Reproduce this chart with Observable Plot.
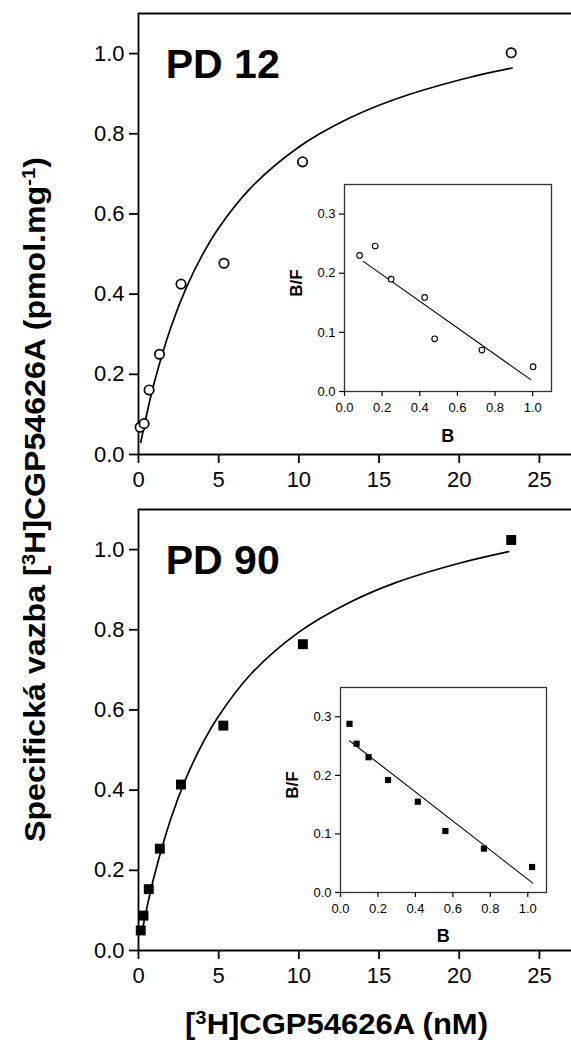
<!DOCTYPE html>
<html><head><meta charset="utf-8">
<script src="https://cdn.jsdelivr.net/npm/d3@7"></script>
<script src="https://cdn.jsdelivr.net/npm/@observablehq/plot@0.6"></script>
<style>
html,body{margin:0;padding:0;background:#fff;}
#fig{position:relative;width:571px;height:1050px;overflow:hidden;font-family:"Liberation Sans",Arial,sans-serif;}
#fig > *{position:absolute;}
</style></head><body><div id="fig"></div>
<script>
// ---------- data ----------
const mainXTicks = [0, 5, 10, 15, 20, 25];
const mainYTicks = [0, 0.2, 0.4, 0.6, 0.8, 1.0];
const mainXDomain = [0, 27];
const mainYDomain = [0, 1.1];
const insetXTicks = [0, 0.2, 0.4, 0.6, 0.8, 1.0];
const insetYTicks = [0, 0.1, 0.2, 0.3];
const insetXDomain = [0, 1.1];
const insetYDomain = [0, 0.35];

// PD 12 saturation (open circles)
const pd12Conc  = [0.1, 0.35, 0.66, 1.31, 2.65, 5.33, 10.23, 23.24];
const pd12Bound = [0.068, 0.077, 0.161, 0.25, 0.425, 0.477, 0.730, 1.002];
const pd12FitConc  = [0.14, 0.5, 1, 2, 3, 4, 5, 7, 10, 13, 16, 20, 23.3];
const pd12FitBound = [0.03, 0.098, 0.182, 0.315, 0.418, 0.499, 0.565, 0.665, 0.767, 0.836, 0.886, 0.934, 0.964];
// PD 12 Scatchard inset
const pd12B  = [0.08, 0.163, 0.248, 0.426, 0.479, 0.73, 1.002];
const pd12BF = [0.23, 0.246, 0.19, 0.159, 0.089, 0.070, 0.042];
const pd12LineB  = [0.1, 0.99];
const pd12LineBF = [0.22, 0.02];

// PD 90 saturation (filled squares)
const pd90Conc  = [0.14, 0.31, 0.64, 1.33, 2.65, 5.29, 10.25, 23.24];
const pd90Bound = [0.05, 0.087, 0.153, 0.254, 0.414, 0.561, 0.764, 1.024];
const pd90FitConc  = [0.2, 0.5, 1, 2, 3, 4, 5, 7, 10, 13, 16, 20, 23.08];
const pd90FitBound = [0.043, 0.102, 0.189, 0.327, 0.433, 0.517, 0.585, 0.689, 0.794, 0.865, 0.917, 0.966, 0.995];
// PD 90 Scatchard inset
const pd90B  = [0.048, 0.086, 0.150, 0.254, 0.413, 0.560, 0.766, 1.023];
const pd90BF = [0.288, 0.254, 0.231, 0.192, 0.155, 0.105, 0.075, 0.0435];
const pd90LineB  = [0.048, 1.027];
const pd90LineBF = [0.259, 0.016];

const panelLabels = [{name: "PD 12", x: 1.7, y: 0.94}, {name: "PD 90", x: 1.7, y: 0.94}];

// ---------- helpers ----------
const zip = (xs, ys) => xs.map((x, i) => ({x, y: ys[i]}));
const fig = document.getElementById("fig");
const FONT = '"Liberation Sans", Arial, sans-serif';

function mainPanel(conc, bound, fitC, fitB, label, filledSquares, top) {
  const pts = zip(conc, bound);
  const fit = zip(fitC, fitB);
  const dotOpts = filledSquares
    ? {x: "x", y: "y", symbol: "square", r: 5.6, fill: "black", stroke: "none"}
    : {x: "x", y: "y", r: 4.7, fill: "white", stroke: "black", strokeWidth: 1.7};
  const p = Plot.plot({
    width: 571, height: 490,
    marginLeft: 138, marginRight: 0, marginTop: 13, marginBottom: 36,
    x: {domain: mainXDomain},
    y: {domain: mainYDomain},
    style: {fontFamily: FONT, fontSize: "22px", color: "black", background: "transparent", overflow: "visible"},
    marks: [
      Plot.axisX({ticks: mainXTicks, tickSize: 9, tickPadding: 8, tickFormat: d => String(d), strokeWidth: 1.8, label: null}),
      Plot.axisY({ticks: mainYTicks, tickSize: 9, tickPadding: 5, tickFormat: d3.format(".1f"), strokeWidth: 1.8, label: null}),
      Plot.ruleY(mainYDomain, {stroke: "black", strokeWidth: 1.8}),
      Plot.ruleX([mainXDomain[0]], {stroke: "black", strokeWidth: 1.8}),
      Plot.line(fit, {x: "x", y: "y", curve: "catmull-rom", stroke: "black", strokeWidth: 1.7}),
      Plot.dot(pts, dotOpts),
      Plot.text([label], {x: "x", y: "y", text: "name", textAnchor: "start", lineAnchor: "bottom",
        fontSize: 41, fontWeight: "bold", fill: "black"})
    ]
  });
  p.style.left = "0px"; p.style.top = top + "px";
  fig.appendChild(p);
}

function insetPanel(B, BF, lineB, lineBF, filledSquares, left, top, width, height) {
  const pts = zip(B, BF);
  const ln = zip(lineB, lineBF);
  const dotOpts = filledSquares
    ? {x: "x", y: "y", symbol: "square", r: 3.5, fill: "black", stroke: "none"}
    : {x: "x", y: "y", r: 2.8, fill: "white", stroke: "black", strokeWidth: 1.1};
  const p = Plot.plot({
    width, height,
    marginLeft: 64, marginRight: 14, marginTop: 14, marginBottom: 29,
    x: {domain: insetXDomain},
    y: {domain: insetYDomain},
    style: {fontFamily: FONT, fontSize: "13px", color: "black", background: "transparent", overflow: "visible"},
    marks: [
      Plot.frame({stroke: "#333", strokeWidth: 1.3, fill: "white"}),
      Plot.axisX({ticks: insetXTicks, tickSize: 5, tickPadding: 6, tickFormat: d3.format(".1f"), strokeWidth: 1.2, label: null}),
      Plot.axisY({ticks: insetYTicks, tickSize: 5, tickPadding: 4, tickFormat: d3.format(".1f"), strokeWidth: 1.2, label: null}),
      Plot.line(ln, {x: "x", y: "y", stroke: "black", strokeWidth: 1.1}),
      Plot.dot(pts, dotOpts)
    ]
  });
  p.style.left = left + "px"; p.style.top = top + "px";
  fig.appendChild(p);
}

mainPanel(pd12Conc, pd12Bound, pd12FitConc, pd12FitBound, panelLabels[0], false, 0);
mainPanel(pd90Conc, pd90Bound, pd90FitConc, pd90FitBound, panelLabels[1], true, 496);
insetPanel(pd12B, pd12BF, pd12LineB, pd12LineBF, false, 280, 170, 285, 250);
insetPanel(pd90B, pd90BF, pd90LineB, pd90LineBF, true, 276, 673, 284, 248);

// ---------- titles & inset axis labels ----------
const ov = d3.select(fig).append("svg")
  .attr("width", 571).attr("height", 1050)
  .style("left", "0px").style("top", "0px").style("pointer-events", "none")
  .attr("font-family", FONT).attr("font-weight", "bold").attr("fill", "black");

const yt = ov.append("text").attr("transform", "translate(45,499.5) rotate(-90)")
  .attr("text-anchor", "middle").attr("font-size", 30)
  .attr("textLength", 685).attr("lengthAdjust", "spacingAndGlyphs");
yt.append("tspan").text("Specifická vazba [");
yt.append("tspan").attr("baseline-shift", "super").attr("font-size", 19).text("3");
yt.append("tspan").text("H]CGP54626A (pmol.mg");
yt.append("tspan").attr("baseline-shift", "super").attr("font-size", 19).text("-1");
yt.append("tspan").text(")");

const xt = ov.append("text").attr("x", 336.5).attr("y", 1034)
  .attr("text-anchor", "middle").attr("font-size", 29)
  .attr("textLength", 303).attr("lengthAdjust", "spacingAndGlyphs");
xt.append("tspan").text("[");
xt.append("tspan").attr("baseline-shift", "super").attr("font-size", 19).text("3");
xt.append("tspan").text("H]CGP54626A (nM)");

const insetLabels = [
  {t: "B/F", x: 302, y: 283, rot: true},
  {t: "B", x: 447.7, y: 441.5, rot: false},
  {t: "B/F", x: 298, y: 785, rot: true},
  {t: "B", x: 443.3, y: 941.5, rot: false}
];
insetLabels.forEach(l => {
  ov.append("text")
    .attr("transform", l.rot ? `translate(${l.x},${l.y}) rotate(-90)` : `translate(${l.x},${l.y})`)
    .attr("text-anchor", "middle").attr("font-size", l.rot ? 17 : 18).text(l.t);
});
</script></body></html>
